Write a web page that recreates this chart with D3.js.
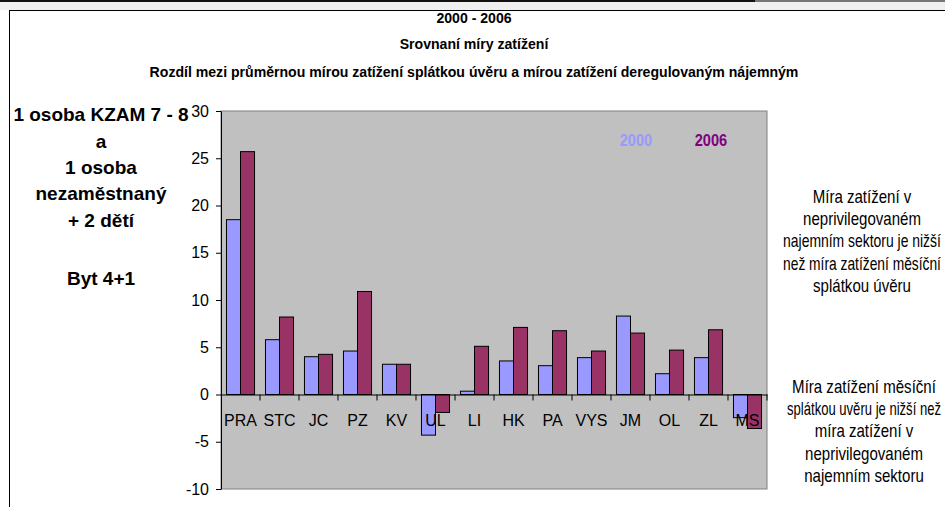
<!DOCTYPE html>
<html>
<head>
<meta charset="utf-8">
<script src="https://cdn.jsdelivr.net/npm/d3@7"></script>
<style>
  body { margin: 0; background: #fff; }
  svg { display: block; }
</style>
</head>
<body>
<div class="chart"></div>
<script>
// Data
var regions = ["PRA", "STC", "JC", "PZ", "KV", "UL", "LI", "HK", "PA", "VYS", "JM", "OL", "ZL", "MS"];
var values2000 = [18.5, 5.8, 4.0, 4.6, 3.2, -4.3, 0.35, 3.55, 3.05, 3.9, 8.3, 2.2, 3.9, -2.45];
var values2006 = [25.7, 8.2, 4.25, 10.9, 3.2, -1.9, 5.1, 7.1, 6.75, 4.6, 6.5, 4.7, 6.85, -3.6];
var seriesNames = ["2000", "2006"];
var yTicks = [-10, -5, 0, 5, 10, 15, 20, 25, 30];

var titleLines = ["2000 - 2006", "Srovnaní míry zatížení",
  "Rozdíl mezi průměrnou mírou zatížení splátkou úvěru a mírou zatížení deregulovaným nájemným"];
var leftLines = ["1 osoba KZAM 7 - 8", "a", "1 osoba", "nezaměstnaný", "+ 2  dětí", "Byt 4+1"];
var noteTop = ["Míra zatížení v", "neprivilegovaném", "najemním sektoru je nižší", "než míra zatížení měsíční", "splátkou úvěru"];
var noteBottom = ["Míra zatížení měsíční", "splátkou uvěru je nižší než", "míra zatížení v", "neprivilegovaném", "najemním sektoru"];

var svgWidth = 945;
var svgHeight = 507;
var colors = ["#9999FF", "#993366"];
var font = "Liberation Sans, Arial, sans-serif";

var plot = { left: 221, top: 111, right: 767, bottom: 489 };

var svg = d3.select(".chart")
  .append("svg")
  .attr("width", svgWidth)
  .attr("height", svgHeight);

// squeeze text horizontally to look like Arial Narrow
function narrow(sel, factor, maxW) {
  sel.each(function() {
    var t = d3.select(this);
    var x = +t.attr("x"), y = +t.attr("y");
    var w = this.getComputedTextLength();
    var f = factor;
    if (maxW && w * f > maxW) f = maxW / w;
    t.attr("x", 0).attr("y", 0)
      .attr("transform", `translate(${x}, ${y}) scale(${f}, 1)`);
  });
}

// outer frame
svg.append("rect")
  .attr("x", 0).attr("y", 2).attr("width", 945).attr("height", 8)
  .attr("fill", "#f0f0f0");
svg.append("line")
  .attr("x1", 0).attr("x2", 755).attr("y1", 1).attr("y2", 1)
  .attr("stroke", "#111").attr("stroke-width", 2);
svg.append("line")
  .attr("x1", 755).attr("x2", 945).attr("y1", 1).attr("y2", 1)
  .attr("stroke", "#777").attr("stroke-width", 2);
svg.append("rect")
  .attr("x", 9.5).attr("y", 10.5).attr("width", 960).attr("height", 520)
  .attr("fill", "#fff").attr("stroke", "#000").attr("stroke-width", 1);

// scales
var xScale = d3.scaleBand()
  .domain(regions)
  .range([plot.left, plot.right])
  .paddingInner(0)
  .paddingOuter(0);

var xSub = d3.scaleBand()
  .domain(seriesNames)
  .range([0, xScale.bandwidth()])
  .paddingInner(0)
  .paddingOuter(0.39);

var yScale = d3.scaleLinear()
  .domain([-10, 30])
  .range([plot.bottom, plot.top]);

// plot area
svg.append("rect")
  .attr("x", plot.left).attr("y", plot.top)
  .attr("width", plot.right - plot.left).attr("height", plot.bottom - plot.top)
  .attr("fill", "#C0C0C0")
  .attr("stroke", "#808080");

// bars
var seriesValues = [values2000, values2006];
seriesValues.forEach(function(vals, si) {
  svg.append("g").selectAll("rect")
    .data(vals)
    .enter()
    .append("rect")
    .attr("x", (d, i) => xScale(regions[i]) + xSub(seriesNames[si]))
    .attr("y", d => yScale(Math.max(0, d)))
    .attr("width", xSub.bandwidth())
    .attr("height", d => Math.abs(yScale(d) - yScale(0)))
    .attr("fill", colors[si])
    .attr("stroke", "#000")
    .attr("stroke-width", 1);
});

// y axis
var leftAxis = d3.axisLeft(yScale)
  .tickValues(yTicks)
  .tickFormat(d => String(d))
  .tickSize(5)
  .tickSizeOuter(0);
var yAxis = svg.append("g")
  .attr("transform", `translate(${plot.left}, 0)`)
  .call(leftAxis);
yAxis.select(".domain").attr("stroke", "#000");
yAxis.selectAll("text")
  .attr("font-family", font)
  .attr("font-size", "16px")
  .attr("fill", "#000")
  .attr("dx", "-4");

// x axis at zero
var bottomAxis = d3.axisBottom(xScale).tickSize(0);
var xAxis = svg.append("g")
  .attr("transform", `translate(0, ${yScale(0)})`)
  .call(bottomAxis);
xAxis.select(".domain").attr("stroke", "#000");
xAxis.selectAll("text")
  .attr("font-family", font)
  .attr("font-size", "16px")
  .attr("fill", "#000")
  .attr("dy", "1.8em");
// category separators
svg.append("g").selectAll("line")
  .data(regions.slice(1))
  .enter()
  .append("line")
  .attr("x1", d => xScale(d)).attr("x2", d => xScale(d))
  .attr("y1", yScale(0)).attr("y2", yScale(0) + 6)
  .attr("stroke", "#000");
svg.append("line")
  .attr("x1", plot.right).attr("x2", plot.right)
  .attr("y1", yScale(0)).attr("y2", yScale(0) + 6)
  .attr("stroke", "#000");

// legend inside plot
svg.append("g").selectAll("text")
  .data(seriesNames)
  .enter()
  .append("text")
  .attr("x", (d, i) => 636 + i * 75)
  .attr("y", 146)
  .attr("text-anchor", "middle")
  .attr("font-family", font)
  .attr("font-weight", "bold")
  .attr("font-size", "17px")
  .attr("fill", (d, i) => i === 0 ? "#9999FF" : "#800080")
  .text(d => d)
  .call(narrow, 0.86);

// titles
svg.append("g").selectAll("text")
  .data(titleLines)
  .enter()
  .append("text")
  .attr("x", 474)
  .attr("y", (d, i) => [23, 49, 77][i])
  .attr("text-anchor", "middle")
  .attr("font-family", font)
  .attr("font-weight", "bold")
  .attr("font-size", "15.5px")
  .attr("fill", "#000")
  .text(d => d)
  .call(narrow, 0.91);

// left annotation
svg.append("g").selectAll("text")
  .data(leftLines)
  .enter()
  .append("text")
  .attr("x", 101)
  .attr("y", (d, i) => [121, 147.5, 174, 200, 227, 285][i])
  .attr("text-anchor", "middle")
  .attr("font-family", font)
  .attr("font-weight", "bold")
  .attr("font-size", "19px")
  .attr("fill", "#000")
  .text(d => d);

// right notes
function notes(lines, cx, y0) {
  svg.append("g").selectAll("text")
    .data(lines)
    .enter()
    .append("text")
    .attr("x", cx)
    .attr("y", (d, i) => y0 + i * 22.2)
    .attr("text-anchor", "middle")
    .attr("font-family", font)
    .attr("font-size", "17.5px")
    .attr("fill", "#000")
    .text(d => d)
    .call(narrow, 0.86, 2 * (941 - cx));
}
notes(noteTop, 862, 203);
notes(noteBottom, 864, 393);
</script>
</body>
</html>
